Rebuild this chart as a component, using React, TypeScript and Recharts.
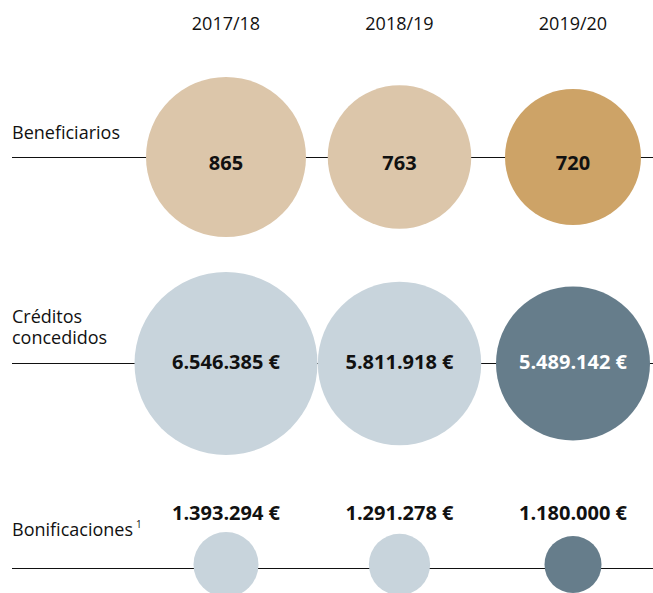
import React from 'react'
import { ScatterChart, Scatter, XAxis, YAxis, ZAxis, Cell, LabelList, ReferenceLine } from 'recharts'

// Chart data
const periods = ['2017/18', '2018/19', '2019/20']
const beneficiarios = [865, 763, 720]
const creditos = [6546385, 5811918, 5489142]
const bonificaciones = [1393294, 1291278, 1180000]

// Layout
const W = 653
const LEFT = 12
const COL0 = 226
const COL2 = 573
const UNIT = (COL2 - COL0) / 2
const X_DOMAIN = [-(COL0 - LEFT) / UNIT, 2 + (W - COL2) / UNIT]
const YEAR_H = 54

const FONT = "'Open Sans', sans-serif"
const TEXT = '#111'

const COLORS = {
  tanLight: '#dcc6aa',
  tanDark: '#cda367',
  slateLight: '#c8d4dc',
  slateDark: '#667d8b',
}

const toRows = (values: number[]) => values.map((value, i) => ({ x: i, y: 0, value }))

const fmt = (v: number) => String(v).replace(/\B(?=(\d{3})+(?!\d))/g, '.')
const euro = (v: number) => `${fmt(v)} €`
const area = (r: number) => Math.PI * r * r

const Bubble = (p: any) => <circle cx={p.cx} cy={p.cy} r={p.width / 2} fill={p.fill} />

interface RowProps {
  values: number[]
  height: number
  margin: { top: number; right: number; bottom: number; left: number }
  radii: [number, number]
  light: string
  dark: string
  format: (v: number) => string
  labelDy: number
  whiteLastLabel?: boolean
  title: (y: number) => React.ReactNode
  lineOffset?: number
  years?: boolean
}

function BubbleRow({
  values,
  height,
  margin,
  radii,
  light,
  dark,
  format,
  labelDy,
  whiteLastLabel = false,
  title,
  lineOffset = 0,
  years = false,
}: RowProps) {
  const data = toRows(values)
  const plotH = height - margin.top - margin.bottom - (years ? YEAR_H : 0)
  const lineY = -lineOffset / (plotH / 2)
  const last = values.length - 1

  return (
    <ScatterChart width={W} height={height} margin={margin}>
      <XAxis
        type="number"
        dataKey="x"
        domain={X_DOMAIN}
        ticks={[0, 1, 2]}
        interval={0}
        hide={!years}
        orientation="top"
        height={years ? YEAR_H : 0}
        axisLine={false}
        tickLine={false}
        tick={(p: any) => (
          <text
            x={p.x}
            y={30}
            textAnchor="middle"
            fontFamily={FONT}
            fontSize={18}
            fill={TEXT}
          >
            {periods[p.payload.value]}
          </text>
        )}
      />
      {/* row title drawn as the single y tick */}
      <YAxis
        type="number"
        dataKey="y"
        domain={[-1, 1]}
        ticks={[0]}
        interval={0}
        width={1}
        axisLine={false}
        tickLine={false}
        tick={(p: any) => <g>{title(p.y)}</g>}
      />
      <ZAxis
        type="number"
        dataKey="value"
        domain={[Math.min(...values), Math.max(...values)]}
        range={[area(radii[0]), area(radii[1])]}
      />
      <ReferenceLine
        y={lineY}
        stroke={TEXT}
        strokeWidth={1}
        shapeRendering="crispEdges"
        zIndex={0}
      />
      <Scatter data={data} shape={Bubble} isAnimationActive={false}>
        {data.map((_, i) => (
          <Cell key={`cell-${i}`} fill={i === last ? dark : light} />
        ))}
        <LabelList
          dataKey="value"
          content={(p: any) => {
            const vb = p.viewBox || p
            const cx = vb.x + vb.width / 2
            const cy = vb.y + vb.height / 2
            const white = whiteLastLabel && p.index === last
            return (
              <text
                x={cx}
                y={cy + labelDy}
                textAnchor="middle"
                fontFamily={FONT}
                fontWeight={700}
                fontSize={20}
                fill={white ? '#fff' : TEXT}
              >
                {format(Number(p.value))}
              </text>
            )
          }}
        />
      </Scatter>
    </ScatterChart>
  )
}

const titleProps = { fontFamily: FONT, fontSize: 18, fill: TEXT }

export default function App() {
  return (
    <div
      style={{
        position: 'absolute',
        left: 0,
        top: 0,
        width: W,
        height: 593,
        overflow: 'hidden',
        background: '#fff',
        fontFamily: FONT,
      }}
    >
      {/* Beneficiarios */}
      <BubbleRow
        values={beneficiarios}
        height={260}
        margin={{ top: 0, right: 0, bottom: 0, left: LEFT - 1 }}
        radii={[68, 80]}
        light={COLORS.tanLight}
        dark={COLORS.tanDark}
        format={fmt}
        labelDy={13}
        years
        title={(y) => (
          <text x={LEFT} y={y - 18} textAnchor="start" {...titleProps}>
            Beneficiarios
          </text>
        )}
      />

      {/* Créditos concedidos */}
      <BubbleRow
        values={creditos}
        height={210}
        margin={{ top: 0, right: 0, bottom: 3, left: LEFT - 1 }}
        radii={[77, 91.5]}
        light={COLORS.slateLight}
        dark={COLORS.slateDark}
        format={euro}
        labelDy={5.5}
        whiteLastLabel
        title={(y) => (
          <>
            <text x={LEFT} y={y - 40.5} textAnchor="start" {...titleProps}>
              Créditos
            </text>
            <text x={LEFT} y={y - 19.5} textAnchor="start" {...titleProps}>
              concedidos
            </text>
          </>
        )}
      />

      {/* Bonificaciones */}
      <BubbleRow
        values={bonificaciones}
        height={123}
        margin={{ top: 66, right: 0, bottom: 0, left: LEFT - 1 }}
        radii={[28.5, 32.5]}
        light={COLORS.slateLight}
        dark={COLORS.slateDark}
        format={euro}
        labelDy={-44.5}
        lineOffset={3.5}
        title={(y) => (
          <text x={LEFT} y={y - 28.5} textAnchor="start" {...titleProps}>
            Bonificaciones
            <tspan fontSize={10} dx={3} dy={-8}>
              1
            </tspan>
          </text>
        )}
      />
    </div>
  )
}
